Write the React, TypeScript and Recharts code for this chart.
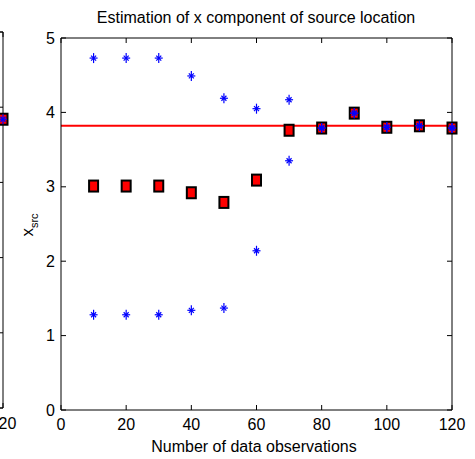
import { ReferenceLine, Scatter, ScatterChart, XAxis, YAxis } from "recharts";

// number of data observations
const observations = [10, 20, 30, 40, 50, 60, 70, 80, 90, 100, 110, 120];
// estimate of x_src (red squares)
const estimate = [3.01, 3.01, 3.01, 2.92, 2.79, 3.09, 3.76, 3.79, 3.99, 3.8, 3.82, 3.79];
// upper / lower spread (blue stars)
const upper = [4.73, 4.73, 4.73, 4.49, 4.19, 4.05, 4.17, 3.79, 3.99, 3.8, 3.82, 3.79];
const lower = [1.28, 1.28, 1.28, 1.34, 1.37, 2.14, 3.35, 3.79, 3.99, 3.8, 3.82, 3.79];
// true source location
const trueX = 3.82;

// neighbouring subplot (only its right edge is visible)
const prevObservations = [120];
const prevEstimate = [3.84];
const prevXTicks = [120];

const xTicks = [0, 20, 40, 60, 80, 100, 120];
const yTicks = [0, 1, 2, 3, 4, 5];

const FONT = "'Liberation Sans', Arial, sans-serif";

const toPoints = (xs: number[], ys: number[]) => xs.map((x, i) => ({ x, y: ys[i] }));

const estPoints = toPoints(observations, estimate);
const upperPoints = toPoints(observations, upper);
const lowerPoints = toPoints(observations, lower);
const prevPoints = toPoints(prevObservations, prevEstimate);

function Star(props: any) {
  const { cx, cy } = props;
  if (cx == null || cy == null) return null;
  return (
    <g stroke="#0000ff" strokeWidth={1.2}>
      <line x1={cx - 4} y1={cy} x2={cx + 4} y2={cy} />
      <line x1={cx} y1={cy - 5} x2={cx} y2={cy + 5} />
      <line x1={cx - 2.5} y1={cy - 2.5} x2={cx + 2.5} y2={cy + 2.5} />
      <line x1={cx - 2.5} y1={cy + 2.5} x2={cx + 2.5} y2={cy - 2.5} />
    </g>
  );
}

function Square(props: any) {
  const { cx, cy } = props;
  if (cx == null || cy == null) return null;
  return <rect x={cx - 4.5} y={cy - 5.5} width={9} height={11} fill="#ff0000" stroke="#000" strokeWidth={2} />;
}

const tickStyle = { fontSize: 16, fontFamily: FONT, fill: "#000" };

export default function App() {
  return (
    <div style={{ position: "absolute", left: 0, top: 0, width: 475, height: 459, background: "#fff", overflow: "hidden" }}>
      {/* right edge of previous subplot */}
      <div style={{ position: "absolute", left: -317, top: 0 }}>
        <ScatterChart width={340} height={459} margin={{ top: 31, right: 19, bottom: 19, left: 21 }}>
          <XAxis
            type="number"
            dataKey="x"
            domain={[0, 120]}
            ticks={prevXTicks}
            height={32}
            stroke="#000"
            tickSize={-5}
            tickMargin={15}
            tick={tickStyle}
          />
          <XAxis xAxisId="top" orientation="top" type="number" dataKey="x" domain={[0, 120]} ticks={xTicks} height={1} stroke="#000" tickSize={-5} tickFormatter={() => ""} />
          <YAxis type="number" dataKey="y" domain={[0, 5]} ticks={yTicks} width={40} stroke="#000" tick={false} />
          <YAxis yAxisId="right" orientation="right" type="number" dataKey="y" domain={[0, 5]} ticks={yTicks} width={1} stroke="#000" tickSize={-5} tickFormatter={() => ""} />
          <Scatter data={prevPoints} shape={Square} isAnimationActive={false} />
          <Scatter data={prevPoints} shape={Star} xAxisId="top" yAxisId="right" isAnimationActive={false} />
        </ScatterChart>
      </div>

      <div style={{ position: "absolute", left: 0, top: 0 }}>
        <ScatterChart width={475} height={459} margin={{ top: 37, right: 22, bottom: 17, left: 21 }}>
          <XAxis
            type="number"
            dataKey="x"
            domain={[0, 120]}
            ticks={xTicks}
            height={32}
            stroke="#000"
            tickSize={-5}
            tickMargin={14}
            tick={tickStyle}
          />
          <XAxis xAxisId="top" orientation="top" type="number" dataKey="x" domain={[0, 120]} ticks={xTicks} height={1} stroke="#000" tickSize={-5} tickFormatter={() => ""} />
          <YAxis type="number" dataKey="y" domain={[0, 5]} ticks={yTicks} width={40} stroke="#000" tickSize={-5} tickMargin={11} tick={tickStyle} />
          <YAxis yAxisId="right" orientation="right" type="number" dataKey="y" domain={[0, 5]} ticks={yTicks} width={1} stroke="#000" tickSize={-5} tickFormatter={() => ""} />
          <ReferenceLine y={trueX} stroke="#ff0000" strokeWidth={2} />
          <Scatter data={estPoints} shape={Square} isAnimationActive={false} />
          <Scatter data={upperPoints} shape={Star} xAxisId="top" yAxisId="right" isAnimationActive={false} />
          <Scatter data={lowerPoints} shape={Star} xAxisId="top" yAxisId="right" isAnimationActive={false} />
        </ScatterChart>
      </div>

      {/* title, axis labels */}
      <svg width={475} height={459} style={{ position: "absolute", left: 0, top: 0, pointerEvents: "none" }}>
        <text x={256} y={23} textAnchor="middle" fontSize={16} fontFamily={FONT} fill="#000">
          Estimation of x component of source location
        </text>
        <text x={254} y={452} textAnchor="middle" fontSize={16} fontFamily={FONT} fill="#000">
          Number of data observations
        </text>
        <text x={33} y={225} transform="rotate(-90, 33, 225)" textAnchor="middle" fontFamily={FONT} fill="#000">
          <tspan fontSize={17}>x</tspan>
          <tspan fontSize={11} dy={5}>src</tspan>
        </text>
      </svg>
    </div>
  );
}
